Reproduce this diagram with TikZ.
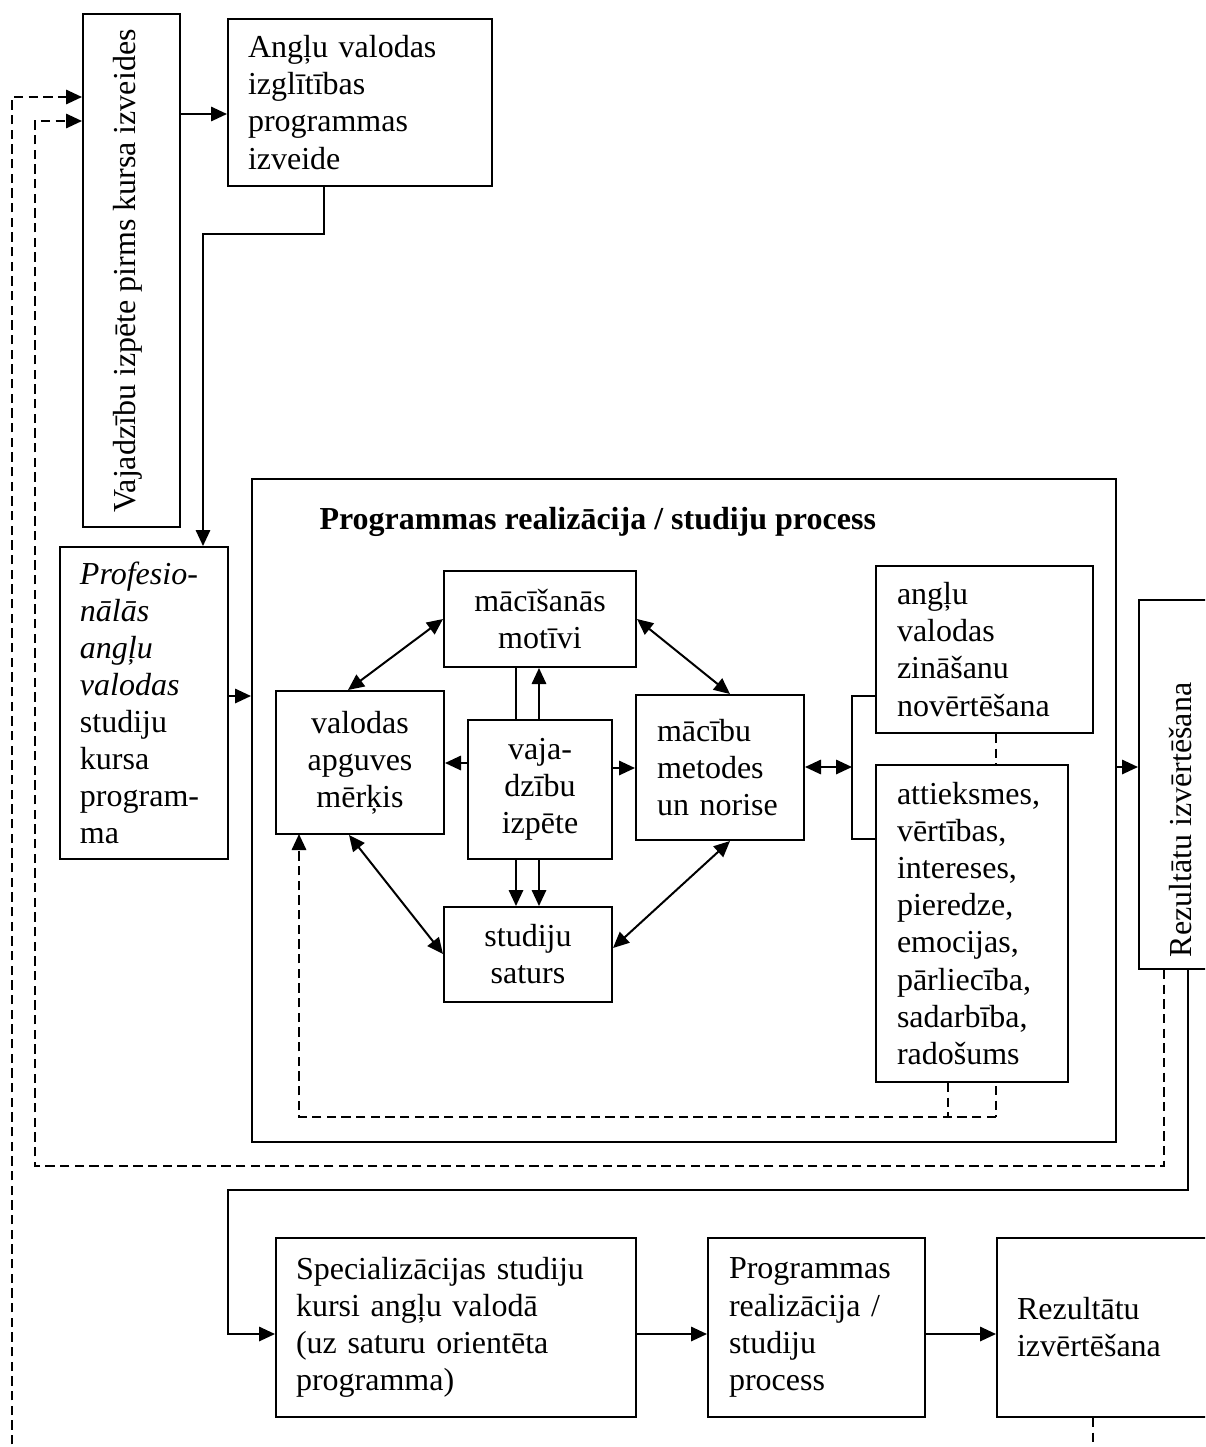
\documentclass[tikz,border=0pt]{standalone}
\usepackage{fontspec}
\setmainfont{Liberation Serif}
\usetikzlibrary{arrows.meta}
\newlength\pxu \setlength\pxu{0.375pt}
\tikzset{
  box/.style={draw, line width=0.75pt, fill=white, inner sep=0pt, font=\fontsize{12}{13.9}\selectfont},
  bx/.style 2 args={minimum width=#1\pxu, minimum height=#2\pxu},
  tw/.style={text width=#1\pxu, align=left},
  txt/.style={inner sep=0pt, font=\fontsize{12}{13.9}\selectfont},
  ln/.style={line width=0.75pt},
  tip/.tip={Triangle[length=6pt,width=5.4pt]},
  arr/.style={line width=0.75pt, -tip},
  darr/.style={line width=0.75pt, tip-tip},
  dsh/.style={line width=0.75pt, dash pattern=on 3.5pt off 2pt},
  darrd/.style={dsh, -tip},
}
\begin{document}
\begin{tikzpicture}[x=0.375pt, y=-0.375pt]
\useasboundingbox (0,0) rectangle (1205,1447);
\clip (0,0) rectangle (1205,1447);

% big frame
\node[box, fill=none, bx={864}{663}] (big) at (684,810.5) {};
\node[txt, anchor=west, font=\fontsize{12}{13.9}\selectfont\bfseries] (title) at (319,522) {Programmas realizācija / studiju process};

% dashed lines drawn behind boxes
\coordinate (d1) at (996,1117);
\coordinate (d2) at (948,1117);
\coordinate (d3) at (299,1117);
\coordinate (d4) at (299,834);

% top-left boxes
\node[box, bx={97}{513}] (vaj) at (131.5,270.5) {};
\node[txt, rotate=90] (vajt) at (128,271) {Vajadzību izpēte pirms kursa izveides};
\node[box, bx={264}{167}, tw={224}] (ang) at (360,102.5) {Angļu valodas\\izglītības\\programmas\\izveide};
\node[box, bx={168}{312}, tw={128}] (prof) at (144,703) {\textit{Profesio-}\\\textit{nālās}\\\textit{angļu}\\\textit{valodas}\\studiju\\kursa\\program-\\ma};

% inner boxes
\node[box, bx={192}{96}, align=center] (mot) at (540,619) {mācīšanās\\motīvi};
\node[box, bx={168}{143}, align=center] (val) at (360,762.5) {valodas\\apguves\\mērķis};
\node[box, bx={144}{139}, align=center] (vjz) at (540,789.5) {vaja-\\dzību\\izpēte};
\node[box, bx={168}{145}, tw={126}] (met) at (720,767.5) {mācību\\metodes\\un norise};
\node[box, bx={168}{95}, align=center] (sat) at (528,954.5) {studiju\\saturs};
\node[box, bx={217}{167}, tw={175}] (zin) at (984.5,649.5) {angļu\\valodas\\zināšanu\\novērtēšana};
\draw[dsh] (zin.south -| d1) -- (d1);
\node[box, bx={192}{317}, tw={150}] (att) at (972,923.5) {attieksmes,\\vērtības,\\intereses,\\pieredze,\\emocijas,\\pārliecība,\\sadarbība,\\radošums};
\draw[dsh] (att.south -| d2) -- (d2);
\draw[darrd] (d1) -- (d3) -- (d4);

% right rotated box
\node[box, bx={91}{369}] (rez1) at (1184.5,784.5) {};
\node[txt, rotate=90] (rez1t) at (1181,820) {Rezultātu izvērtēšana};

% bottom row
\node[box, bx={360}{179}, tw={320}] (spec) at (456,1327.5) {Specializācijas studiju\\kursi angļu valodā\\(uz saturu orientēta\\programma)};
\node[box, bx={217}{179}, tw={175}] (prg) at (816.5,1327.5) {Programmas\\realizācija /\\studiju\\process};
\node[box, bx={233}{179}, tw={193}] (rez2) at (1113.5,1327.5) {Rezultātu\\izvērtēšana};

% connectors: top
\draw[arr] (vaj.east |- 0,114) -- (ang.west |- 0,114);
\coordinate (a1) at (324,234);
\coordinate (a2) at (203,234);
\draw[arr] (ang.south -| a1) -- (a1) -- (a2) -- (prof.north -| a2);
\draw[arr] (prof.east |- 0,696) -- (big.west |- 0,696);
\draw[arr] (big.east |- 0,767) -- (rez1.west |- 0,767);

% feedback dashed lines
\coordinate (o1) at (1093,1470);
\coordinate (o2) at (12,1470);
\coordinate (o3) at (12,97);
\draw[darrd] (rez2.south -| o1) -- (o1) -- (o2) -- (o3) -- (vaj.west |- o3);
\coordinate (i1) at (1164,1166);
\coordinate (i2) at (35,1166);
\coordinate (i3) at (35,121);
\draw[darrd] (rez1.south -| i1) -- (i1) -- (i2) -- (i3) -- (vaj.west |- i3);

% solid return to bottom row
\coordinate (s1) at (1188,1190);
\coordinate (s2) at (228,1190);
\coordinate (s3) at (228,1334);
\draw[arr] (rez1.south -| s1) -- (s1) -- (s2) -- (s3) -- (spec.west |- s3);
\draw[arr] (spec.east |- 0,1334) -- (prg.west |- 0,1334);
\draw[arr] (prg.east |- 0,1334) -- (rez2.west |- 0,1334);

% inner connectors
\draw[arr] (vjz.west |- 0,763) -- (val.east |- 0,763);
\draw[arr] (vjz.east |- 0,768) -- (met.west |- 0,768);
\draw[ln] (vjz.north -| 516,0) -- (mot.south -| 516,0);
\draw[arr] (vjz.north -| 539,0) -- (mot.south -| 539,0);
\draw[arr] (vjz.south -| 516,0) -- (sat.north -| 516,0);
\draw[arr] (vjz.south -| 539,0) -- (sat.north -| 539,0);
\draw[darr] (mot.west |- 0,619) -- (val.north -| 348,0);
\draw[darr] (mot.east |- 0,619) -- (met.north -| 730,0);
\draw[darr] (val.south -| 349,0) -- (sat.west |- 0,954);
\draw[darr] (met.south -| 730,0) -- (sat.east |- 0,948);

% bracket to assessment boxes
\coordinate (b1) at (852,696);
\coordinate (b2) at (852,839);
\coordinate (b3) at (852,767);
\draw[darr] (met.east |- b3) -- (b3);
\draw[ln] (zin.west |- b1) -- (b1) -- (b2) -- (att.west |- b2);
\end{tikzpicture}
\end{document}
